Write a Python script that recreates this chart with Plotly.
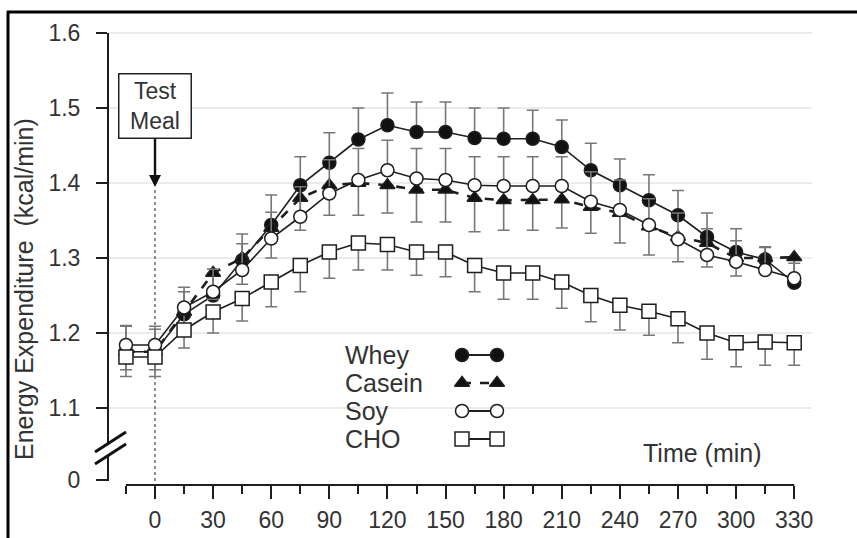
import plotly.graph_objects as go

# ---------------- data ----------------
time_min = [-15, 0, 15, 30, 45, 60, 75, 90, 105, 120, 135, 150, 165, 180,
            195, 210, 225, 240, 255, 270, 285, 300, 315, 330]

whey = [1.175, 1.175, 1.225, 1.250, 1.297, 1.344, 1.397, 1.427, 1.458, 1.477,
        1.468, 1.468, 1.460, 1.459, 1.459, 1.448, 1.417, 1.397, 1.377, 1.357,
        1.328, 1.308, 1.298, 1.267]
whey_err_plus = [0.035, 0.030, 0.030, 0.035, 0.035, 0.040, 0.038, 0.040, 0.042, 0.043,
                 0.040, 0.040, 0.040, 0.041, 0.038, 0.036, 0.036, 0.035, 0.034, 0.033,
                 0.032, 0.031, 0.017, 0.030]

casein = [1.175, 1.175, 1.228, 1.280, 1.300, 1.340, 1.380, 1.397, 1.400, 1.397,
          1.391, 1.391, 1.380, 1.377, 1.377, 1.378, 1.368, 1.360, 1.342, 1.328,
          1.320, 1.300, 1.300, 1.301]
casein_err_minus = [0.024, 0.024, 0.030, 0.035, 0.035, 0.040, 0.043, 0.040, 0.043, 0.037,
                    0.043, 0.043, 0.045, 0.040, 0.040, 0.038, 0.035, 0.040, 0.038, 0.033,
                    0.032, 0.024, 0.015, 0.025]

soy = [1.184, 1.184, 1.234, 1.255, 1.284, 1.326, 1.355, 1.386, 1.404, 1.417,
       1.406, 1.404, 1.397, 1.396, 1.396, 1.396, 1.375, 1.364, 1.344, 1.325,
       1.304, 1.295, 1.284, 1.273]
soy_err_plus = [0.025, 0.025, 0.027, 0.030, 0.035, 0.035, 0.040, 0.045, 0.042, 0.040,
                0.040, 0.042, 0.038, 0.039, 0.039, 0.039, 0.040, 0.040, 0.035, 0.035,
                0.035, 0.028, 0.030, 0.020]

cho = [1.168, 1.168, 1.204, 1.228, 1.246, 1.268, 1.290, 1.308, 1.320, 1.318,
       1.308, 1.308, 1.290, 1.280, 1.280, 1.268, 1.250, 1.237, 1.229, 1.219,
       1.200, 1.187, 1.188, 1.187]
cho_err_minus = [0.026, 0.026, 0.024, 0.028, 0.030, 0.033, 0.035, 0.035, 0.036, 0.034,
                 0.031, 0.033, 0.035, 0.035, 0.035, 0.035, 0.035, 0.033, 0.032, 0.032,
                 0.035, 0.032, 0.031, 0.030]

x_tick_vals = [0, 30, 60, 90, 120, 150, 180, 210, 240, 270, 300, 330]
x_tick_text = [str(v) for v in x_tick_vals]
x_minor_vals = [-15, 15, 45, 75, 105, 135, 165, 195, 225, 255, 285, 315]
y_tick_vals = [1.004, 1.1, 1.2, 1.3, 1.4, 1.5, 1.6]
y_tick_text = ["0", "1.1", "1.2", "1.3", "1.4", "1.5", "1.6"]
grid_vals = [1.1, 1.2, 1.3, 1.4, 1.5, 1.6]

legend_names = ["Whey", "Casein", "Soy", "CHO"]

# ---------------- layout geometry (pixels) ----------------
W, H = 857, 538
L, R, T, B = 108, 43, 20, 53
PW, PH = W - L - R, H - T - B
PX_PER_MIN = 1.937
X0_PX = 155
Y16_PX = 33
PX_PER_UNIT = 750.0
x_range = [(L - X0_PX) / PX_PER_MIN, (W - R - X0_PX) / PX_PER_MIN]
y_range = [1.6 - (H - B - Y16_PX) / PX_PER_UNIT, 1.6 + (Y16_PX - T) / PX_PER_UNIT]


def px_to_paper_x(px):
    return (px - L) / PW


def px_to_paper_y(py):
    return (H - B - py) / PH


def px_to_x(px):
    return (px - X0_PX) / PX_PER_MIN


def px_to_y(py):
    return 1.6 - (py - Y16_PX) / PX_PER_UNIT


INK = "#1e1e1e"
TXT = "#333333"
ERR = "#777777"
FONT = "Liberation Sans, Arial, sans-serif"
TICK_SIZE = 23
LABEL_SIZE = 25

styles = {
    "Whey": dict(symbol="circle", fill="#111111", dash="solid", lw=1.6, size=13),
    "Casein": dict(symbol="triangle-up", fill="#111111", dash="dash", lw=2.6, size=13),
    "Soy": dict(symbol="circle", fill="#ffffff", dash="solid", lw=1.6, size=13),
    "CHO": dict(symbol="square", fill="#ffffff", dash="solid", lw=1.6, size=14),
}

fig = go.Figure()

series = [
    ("Whey", whey, dict(type="data", symmetric=False, array=whey_err_plus,
                         arrayminus=[0] * len(whey))),
    ("Casein", casein, dict(type="data", symmetric=False, array=[0] * len(casein),
                             arrayminus=casein_err_minus)),
    ("Soy", soy, dict(type="data", symmetric=False, array=soy_err_plus,
                       arrayminus=[0] * len(soy))),
    ("CHO", cho, dict(type="data", symmetric=False, array=[0] * len(cho),
                       arrayminus=cho_err_minus)),
]

for name, vals, err in series:
    st = styles[name]
    err.update(color=ERR, thickness=1.6, width=6)
    fig.add_trace(go.Scatter(
        x=time_min, y=vals, name=name, mode="lines+markers",
        line=dict(color=INK, width=st["lw"], dash=st["dash"]),
        marker=dict(symbol=st["symbol"], size=st["size"], color=st["fill"],
                    line=dict(color=INK, width=1.5)),
        error_y=err, showlegend=False, cliponaxis=False,
    ))

# ---------------- custom legend (text left, key right) ----------------
leg_y_px = [355, 383, 411, 439]
annotations = []
for name, ypx in zip(legend_names, leg_y_px):
    st = styles[name]
    fig.add_trace(go.Scatter(
        x=[px_to_x(462), px_to_x(497)], y=[px_to_y(ypx), px_to_y(ypx)],
        mode="lines+markers", showlegend=False, hoverinfo="skip",
        line=dict(color=INK, width=st["lw"] + (0.6 if name != "Casein" else 0),
                  dash="dash" if name == "Casein" else "solid"),
        marker=dict(symbol=st["symbol"], size=st["size"], color=st["fill"],
                    line=dict(color=INK, width=1.5)),
    ))
    annotations.append(dict(
        xref="paper", yref="paper", x=px_to_paper_x(343), y=px_to_paper_y(ypx),
        text=name, showarrow=False, xanchor="left", yanchor="middle",
        font=dict(family=FONT, size=LABEL_SIZE, color=TXT)))

# Time (min)
annotations.append(dict(
    xref="paper", yref="paper", x=px_to_paper_x(702), y=px_to_paper_y(453),
    text="Time (min)", showarrow=False, xanchor="center", yanchor="middle",
    font=dict(family=FONT, size=LABEL_SIZE, color=TXT)))

# Y title
annotations.append(dict(
    xref="paper", yref="paper", x=px_to_paper_x(24), y=px_to_paper_y(289),
    text="Energy Expenditure  (kcal/min)", showarrow=False, textangle=-90,
    xanchor="center", yanchor="middle",
    font=dict(family=FONT, size=LABEL_SIZE, color=TXT)))

# Test Meal box with arrow
annotations.append(dict(
    x=0, y=px_to_y(187), xref="x", yref="y",
    text="Test<br>Meal", showarrow=True, ax=0, ay=106 - 187,
    arrowhead=2, arrowsize=1.0, arrowwidth=2.4, arrowcolor="#111111",
    bordercolor="#222222", borderwidth=1.5, borderpad=2, bgcolor="#ffffff",
    width=67, height=59, align="center",
    font=dict(family=FONT, size=TICK_SIZE, color=TXT)))

# ---------------- shapes ----------------
shapes = []
for gv in grid_vals:
    shapes.append(dict(type="line", xref="paper", yref="y", x0=0,
                       x1=px_to_paper_x(812), y0=gv, y1=gv, layer="below",
                       line=dict(color="#e4e4e4", width=1.5)))
shapes.append(dict(type="line", xref="x", yref="y", x0=0, x1=0,
                   y0=px_to_y(190), y1=y_range[0], layer="below",
                   line=dict(color="#444444", width=1.2, dash="dot")))
shapes.append(dict(type="line", xref="x", yref="paper", x0=-15, x1=330,
                   y0=0, y1=0, line=dict(color=INK, width=2)))
shapes.append(dict(type="line", xref="paper", yref="paper", x0=0, x1=0,
                   y0=px_to_paper_y(33), y1=px_to_paper_y(444),
                   line=dict(color=INK, width=2)))
shapes.append(dict(type="line", xref="paper", yref="paper", x0=0, x1=0,
                   y0=px_to_paper_y(456), y1=px_to_paper_y(481),
                   line=dict(color=INK, width=2)))
for dy in (0, 12):
    shapes.append(dict(type="line", xref="paper", yref="paper",
                       x0=px_to_paper_x(95), y0=px_to_paper_y(452 + dy),
                       x1=px_to_paper_x(126), y1=px_to_paper_y(432 + dy),
                       line=dict(color="#111111", width=3)))
shapes.append(dict(type="line", xref="paper", yref="paper",
                   x0=px_to_paper_x(7), x1=px_to_paper_x(860),
                   y0=px_to_paper_y(12), y1=px_to_paper_y(12),
                   line=dict(color="#000000", width=3)))
shapes.append(dict(type="line", xref="paper", yref="paper",
                   x0=px_to_paper_x(8), x1=px_to_paper_x(8),
                   y0=px_to_paper_y(11), y1=px_to_paper_y(545),
                   line=dict(color="#000000", width=3)))

fig.update_layout(
    width=W, height=H,
    margin=dict(l=L, r=R, t=T, b=B, pad=0, autoexpand=False),
    paper_bgcolor="white", plot_bgcolor="white",
    font=dict(family=FONT, size=TICK_SIZE, color=TXT),
    showlegend=False,
    xaxis=dict(range=x_range, showgrid=False, zeroline=False, showline=False,
               automargin=False,
               tickmode="array", tickvals=x_tick_vals, ticktext=x_tick_text,
               ticks="outside", ticklen=13, tickwidth=2, tickcolor=INK,
               ticklabelstandoff=1,
               minor=dict(tickmode="array", tickvals=x_minor_vals, ticks="outside",
                          ticklen=8, tickwidth=2, tickcolor=INK, showgrid=False),
               tickfont=dict(family=FONT, size=TICK_SIZE, color=TXT)),
    yaxis=dict(range=y_range, showgrid=False, zeroline=False, showline=False,
               automargin=False,
               tickmode="array", tickvals=y_tick_vals, ticktext=y_tick_text,
               ticks="outside", ticklen=11, tickwidth=2, tickcolor=INK,
               ticklabelstandoff=11,
               tickfont=dict(family=FONT, size=TICK_SIZE, color=TXT)),
    shapes=shapes,
    annotations=annotations,
)

fig.write_html("out.html")
